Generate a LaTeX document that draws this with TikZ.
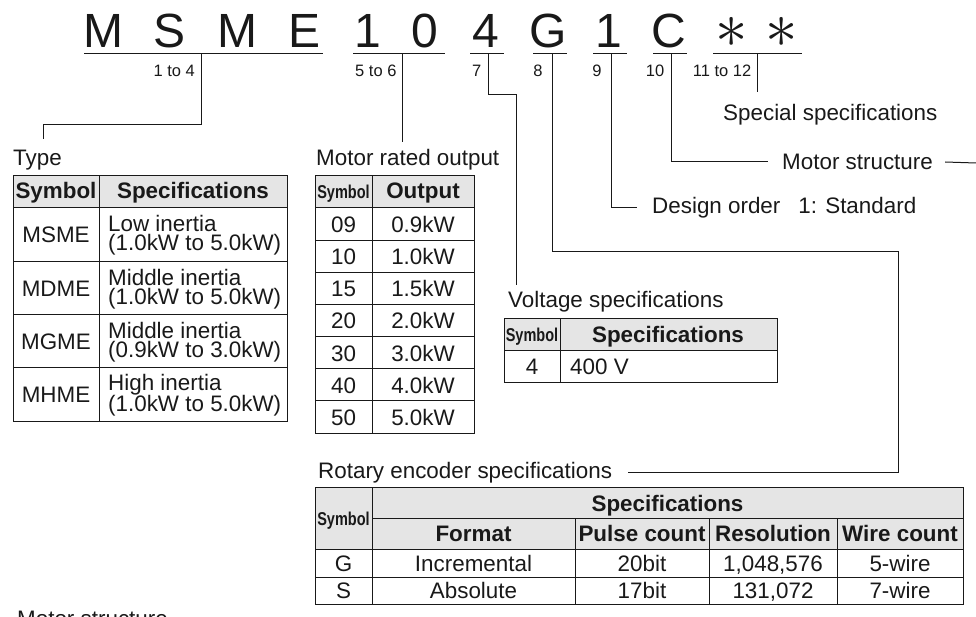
\documentclass[tikz,border=0pt]{standalone}
\usepackage{fontspec}
\usepackage{graphicx}
\setmainfont{Liberation Sans}
\newfontfamily\condfont[FakeStretch=0.78]{Liberation Sans}
\usetikzlibrary{positioning, calc}
\definecolor{hdrgray}{RGB}{229, 229, 229}
\definecolor{inkblack}{RGB}{25, 25, 25}
\tikzset{
  lbl/.style={inner sep=0pt, text=inkblack, font=\fontsize{22.4}{24}\selectfont},
  lbltwo/.style={inner sep=0pt, text=inkblack, align=left, font=\fontsize{22.4}{19}\selectfont},
  lblbold/.style={inner sep=0pt, text=inkblack, font=\fontsize{22.4}{24}\selectfont\bfseries},
  symhdr/.style={inner sep=0pt, text=inkblack, font=\condfont\fontsize{18.6}{20}\selectfont\bfseries},
  posnum/.style={inner sep=0pt, text=inkblack, anchor=base, font=\fontsize{16.5}{18}\selectfont},
  codechar/.style={inner sep=0pt, text=inkblack, anchor=base, font=\fontsize{48}{50}\selectfont},
  wire/.style={line width=1pt, draw=inkblack},
  cell/.style={line width=1pt, draw=inkblack}
}

\begin{document}
\begin{tikzpicture}[x=1pt, y=-1pt]
  \useasboundingbox (0,0) rectangle (976,617);
  \clip (0,0) rectangle (976,617);

  % Model code
  \foreach \ch/\xc [count=\i] in {M/103, S/170, M/237, E/305, 1/368, 0/425, 4/486, G/548, 1/609, C/669}
    \node[codechar] (c\i) at (\xc,48) {\ch};
  \foreach \xc [count=\i from 11] in {732, 782}
    \node[inner sep=0pt, text=inkblack] (c\i) at (\xc,32.5) {\scalebox{2.6}{\fontsize{24}{24}\selectfont$\ast$}};

  % Underlines and digit positions
  \foreach \a/\b in {84/323, 353/445, 470/504, 533/567, 593/627, 653/687, 713/802}
    \draw[cell] (\a,54) -- (\b,54);
  \node[posnum, anchor=base east] (p1) at (195,77) {1 to 4};
  \node[posnum, anchor=base west] (p2) at (355,77) {5 to 6};
  \node[posnum, anchor=base west] (p3) at (472,77) {7};
  \node[posnum] (p4) at (538,77) {8};
  \node[posnum] (p5) at (597,77) {9};
  \node[posnum] (p6) at (655,77) {10};
  \node[posnum] (p7) at (722,77) {11 to 12};

  \coordinate (u1) at (201,54);
  \coordinate (u2) at (402,54);
  \coordinate (u3) at (488,54);
  \coordinate (u4) at (552,54);
  \coordinate (u5) at (611,54);
  \coordinate (u6) at (671,54);
  \coordinate (u7) at (757,54);

  % Labels
  \node[lbl, anchor=base west] (type) at (13,166) {Type};
  \node[lbl, anchor=base west] (output) at (316,166) {Motor rated output};
  \node[lbl, anchor=base west] (voltage) at (508,308) {Voltage specifications};
  \node[lbl, anchor=base west] (encoder) at (318,478) {Rotary encoder specifications};
  \node[lbl, anchor=west] (design) at (652,208) {Design order\hspace{0.8em}1: Standard};
  \node[lbl, anchor=west] (structure) at (782,162) {Motor structure};
  \node[lbl, anchor=base west] (special) at (723,121) {Special specifications};
  \node[lbl, anchor=base west] (structure2) at (17,626) {Motor structure};

  \coordinate (t1) at (43,139);
  \coordinate (m1) at (402,142);
  \coordinate (v1) at (516,285);
  \coordinate (e1) at (898,472);
  \coordinate (e2) at (628,472);
  \coordinate (s1) at (757,92);
  \coordinate (r1) at (976,163);

  % Connectors
  \draw[wire] (u1) -- ++(0,71) -| (t1);
  \draw[wire] (u2) -- (m1);
  \draw[wire] (u3) -- ++(0,41) -| (v1);
  \draw[wire] (u4) -- ++(0,198) -| (e1) -- (e2);
  \draw[wire] (u5) |- ([xshift=-15pt]design.west);
  \draw[wire] (u6) |- ([xshift=-14pt]structure.west);
  \draw[wire] ([xshift=12pt]structure.east) -- (r1);
  \draw[wire] (u7) -- (s1);

  % Type table
  \fill[hdrgray] (13,176) rectangle (287,208);
  \foreach \y in {208, 261.25, 314.5, 367.75}
    \draw[cell] (13,\y) -- (287,\y);
  \draw[cell] (99,176) -- (99,421);
  \draw[cell] (13,176) rectangle (287,421);
  \node[lblbold, anchor=base] (tsym) at (56,199) {Symbol};
  \node[lblbold, anchor=base] (tspec) at (193,199) {Specifications};
  \foreach \s/\a/\b [count=\i from 0] in {MSME/Low inertia/(1.0kW to 5.0kW), MDME/Middle inertia/(1.0kW to 5.0kW), MGME/Middle inertia/(0.9kW to 3.0kW), MHME/High inertia/(1.0kW to 5.0kW)}
  {
    \node[lbl, anchor=base] (ts\i) at (56,{243+53.25*\i}) {\s};
    \node[lbltwo, anchor=west] (ta\i) at (108,{235.5+53.25*\i}) {\a\\\b};
  }

  % Motor rated output table
  \fill[hdrgray] (315,176) rectangle (474,208);
  \foreach \i in {0,...,6}
    \draw[cell] (315,{208+32.14*\i}) -- (474,{208+32.14*\i});
  \draw[cell] (372,176) -- (372,433);
  \draw[cell] (315,176) rectangle (474,433);
  \node[symhdr, anchor=base] (osym) at (343.5,199) {Symbol};
  \node[lblbold, anchor=base] (ohdr) at (423,199) {Output};
  \foreach \s/\o [count=\i from 0] in {09/0.9kW, 10/1.0kW, 15/1.5kW, 20/2.0kW, 30/3.0kW, 40/4.0kW, 50/5.0kW}
  {
    \node[lbl, anchor=base] (os\i) at (343.5,{232.5+32.14*\i}) {\s};
    \node[lbl, anchor=base] (ov\i) at (423,{232.5+32.14*\i}) {\o};
  }

  % Voltage table
  \fill[hdrgray] (504,318) rectangle (777,350);
  \draw[cell] (560,318) -- (560,382);
  \draw[cell] (504,350) -- (777,350);
  \draw[cell] (504,318) rectangle (777,382);
  \node[symhdr, anchor=base] (vsym) at (532,341) {Symbol};
  \node[lblbold, anchor=base] (vhdr) at (668,342) {Specifications};
  \node[lbl, anchor=base] (vs0) at (532,374) {4};
  \node[lbl, anchor=base west] (vv0) at (570,374) {400 V};

  % Rotary encoder table
  \fill[hdrgray] (315,487) rectangle (963,549);
  \draw[cell] (372,518) -- (963,518);
  \foreach \y in {549, 577}
    \draw[cell] (315,\y) -- (963,\y);
  \foreach \x in {575, 709, 837}
    \draw[cell] (\x,518) -- (\x,604);
  \draw[cell] (372,487) -- (372,604);
  \draw[cell] (315,487) rectangle (963,604);
  \node[symhdr, anchor=base] (esym) at (343.5,525) {Symbol};
  \node[lblbold, anchor=base] (ehdr) at (667.5,511) {Specifications};
  \foreach \h/\xc [count=\i] in {Format/473.5, Pulse count/642, Resolution/773, Wire count/900}
    \node[lblbold, anchor=base] (eh\i) at (\xc,541.5) {\h};
  \foreach \s/\f/\p/\r/\w/\yb [count=\i] in {G/Incremental/20bit/{1,048,576}/5-wire/571, S/Absolute/17bit/{131,072}/7-wire/598}
  {
    \node[lbl, anchor=base] (es\i) at (343.5,\yb) {\s};
    \node[lbl, anchor=base] (ef\i) at (473.5,\yb) {\f};
    \node[lbl, anchor=base] (ep\i) at (642,\yb) {\p};
    \node[lbl, anchor=base] (er\i) at (773,\yb) {\r};
    \node[lbl, anchor=base] (ew\i) at (900,\yb) {\w};
  }
\end{tikzpicture}
\end{document}
